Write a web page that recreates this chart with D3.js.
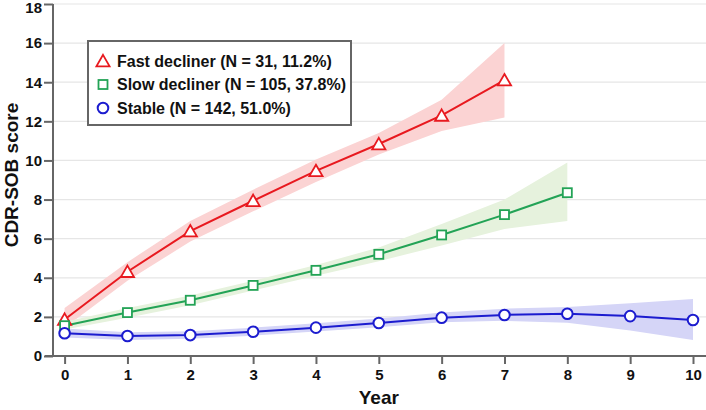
<!DOCTYPE html>
<html><head><meta charset="utf-8">
<script src="https://cdn.jsdelivr.net/npm/d3@7"></script>
<style>
body{margin:0;background:#fff;}
svg text{font-family:"Liberation Sans",Arial,Helvetica,sans-serif;font-weight:bold;}
</style></head>
<body><svg id="chart" width="706" height="410"></svg>
<script>
const years = [0,1,2,3,4,5,6,7,8,9,10];
const yTicks = [0,2,4,6,8,10,12,14,16,18];
const seriesNames = ["Fast decliner (N = 31, 11.2%)","Slow decliner (N = 105, 37.8%)","Stable (N = 142, 51.0%)"];
const fastMean  = [1.87,4.31,6.39,7.94,9.47,10.84,12.3,14.11];
const fastLower = [1.45,3.85,5.85,7.4,8.9,10.3,11.5,12.2];
const fastUpper = [2.45,4.8,6.9,8.5,10.05,11.4,13.1,16.0];
const slowMean  = [1.55,2.22,2.85,3.61,4.38,5.2,6.19,7.23,8.35];
const slowLower = [1.35,1.95,2.6,3.35,4.1,4.85,5.65,6.5,6.9];
const slowUpper = [1.75,2.45,3.1,3.85,4.65,5.55,6.75,8.0,9.9];
const stableMean  = [1.16,1.02,1.07,1.24,1.45,1.69,1.96,2.1,2.16,2.04,1.84];
const stableLower = [0.95,0.82,0.88,1.04,1.25,1.47,1.72,1.8,1.7,1.3,0.82];
const stableUpper = [1.4,1.22,1.27,1.45,1.67,1.92,2.22,2.42,2.5,2.7,2.92];

const svg = d3.select("#chart");
const x = d3.scaleLinear().domain([0,10]).range([64.6,693]);
const y = d3.scaleLinear().domain([0,18]).range([356,4]);

// gridlines
svg.append("g").selectAll("line").data(yTicks.filter(d=>d>0)).join("line")
  .attr("x1",53).attr("x2",706).attr("y1",d=>y(d)).attr("y2",d=>y(d))
  .attr("stroke","#e6e6e6").attr("stroke-width",1.2);

const series = [
  {mean:fastMean,lo:fastLower,hi:fastUpper,line:"#e8191f",band:"#fbd3d3",shape:"tri"},
  {mean:slowMean,lo:slowLower,hi:slowUpper,line:"#23a356",band:"#e6f2dd",shape:"sq"},
  {mean:stableMean,lo:stableLower,hi:stableUpper,line:"#1c1ccf",band:"#d5d5f7",shape:"circ"}
];

series.forEach(s=>{
  const pts = s.mean.map((v,i)=>({x:years[i],v,lo:s.lo[i],hi:s.hi[i]}));
  svg.append("path").datum(pts)
    .attr("d",d3.area().x(d=>x(d.x)).y0(d=>y(d.lo)).y1(d=>y(d.hi)))
    .attr("fill",s.band).attr("stroke","none");
});
series.forEach(s=>{
  const pts = s.mean.map((v,i)=>({x:years[i],v}));
  svg.append("path").datum(pts)
    .attr("d",d3.line().x(d=>x(d.x)).y(d=>y(d.v)))
    .attr("fill","none").attr("stroke",s.line).attr("stroke-width",2);
});

function marker(g, shape, color){
  if(shape==="tri"){
    g.append("path").attr("d",d3.symbol().type(d3.symbolTriangle).size(75)())
      .attr("transform","translate(0,1.5)")
      .attr("fill","#fff").attr("stroke",color).attr("stroke-width",1.8);
  } else if(shape==="sq"){
    g.append("rect").attr("x",-4.5).attr("y",-4.5).attr("width",9).attr("height",9)
      .attr("fill","#fff").attr("stroke",color).attr("stroke-width",1.8);
  } else {
    g.append("circle").attr("r",5.3).attr("fill","#fff").attr("stroke",color).attr("stroke-width",2);
  }
}
series.forEach(s=>{
  s.mean.forEach((v,i)=>{
    const g = svg.append("g").attr("transform",`translate(${x(years[i])},${y(v)})`);
    marker(g,s.shape,s.line);
  });
});

// axes
const axisColor = "#666";
const yAxis = svg.append("g").attr("transform","translate(53,0)")
  .call(d3.axisLeft(y).tickValues(yTicks).tickSize(9).tickPadding(2).tickFormat(d3.format("d")));
const xAxis = svg.append("g").attr("transform","translate(0,356)")
  .call(d3.axisBottom(x).tickValues(years).tickSize(8).tickPadding(5).tickFormat(d3.format("d")));
[yAxis,xAxis].forEach(a=>{
  a.select(".domain").remove();
  a.selectAll(".tick line").attr("stroke",axisColor).attr("stroke-width",2);
  a.selectAll(".tick text").attr("font-size",15).attr("fill","#111");
});
yAxis.selectAll(".tick text").filter(d=>d===18).attr("dy","0.55em");
svg.append("line").attr("x1",53).attr("x2",53).attr("y1",4).attr("y2",357)
  .attr("stroke",axisColor).attr("stroke-width",2);
svg.append("line").attr("x1",45).attr("x2",706).attr("y1",356).attr("y2",356)
  .attr("stroke",axisColor).attr("stroke-width",2);

svg.append("text").attr("transform","translate(17.5,175) rotate(-90)")
  .attr("text-anchor","middle").attr("font-size",19).attr("fill","#111").text("CDR-SOB score");
svg.append("text").attr("x",x(5)).attr("y",404)
  .attr("text-anchor","middle").attr("font-size",19).attr("fill","#111").text("Year");

// legend
const leg = svg.append("g");
leg.append("rect").attr("x",88).attr("y",41).attr("width",263).attr("height",84)
  .attr("fill","#fff").attr("stroke",axisColor).attr("stroke-width",2);
const rowsY = [61,84.5,108];
series.forEach((s,i)=>{
  const g = leg.append("g").attr("transform",`translate(103,${rowsY[i]})`);
  marker(g,s.shape,s.line);
  leg.append("text").attr("x",117).attr("y",rowsY[i]).attr("dy","0.36em")
    .attr("font-size",16).attr("fill","#111").text(seriesNames[i]);
});
</script></body></html>
